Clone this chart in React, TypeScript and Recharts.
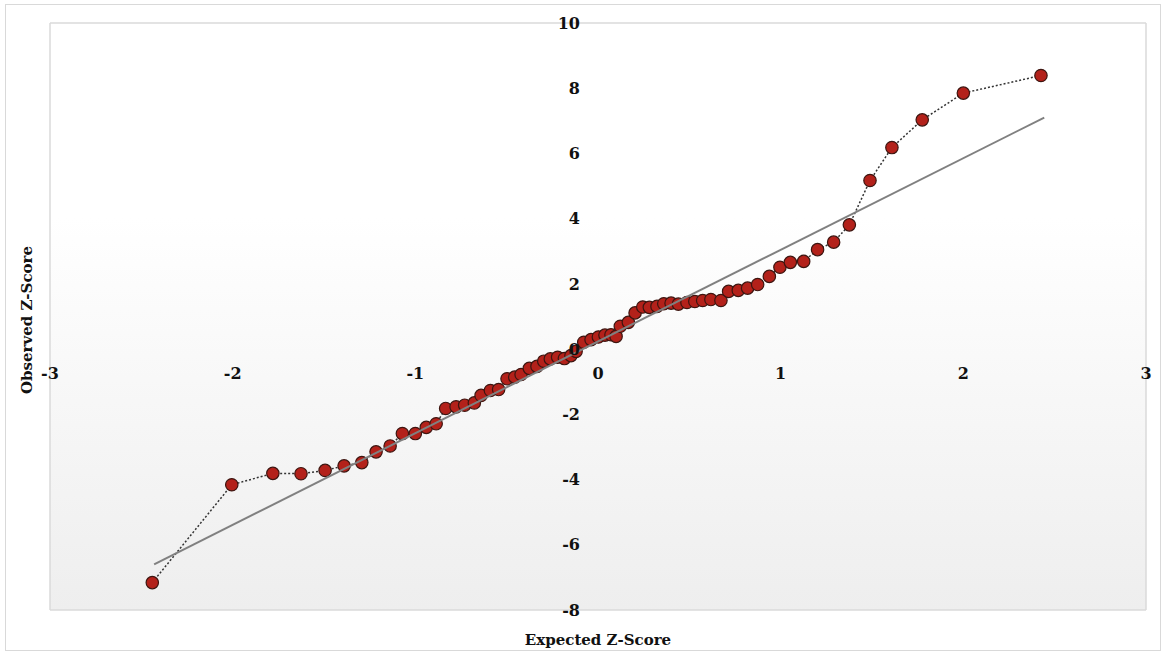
import React from "react";
import {
  CartesianGrid,
  ComposedChart,
  ReferenceDot,
  Scatter,
  XAxis,
  YAxis,
} from "recharts";

// expected (theoretical) vs observed z-scores, sorted by expected
const expected = [
  -2.44, -2.005, -1.78, -1.626, -1.494, -1.39, -1.293, -1.215, -1.138, -1.071,
  -1.0, -0.94, -0.886, -0.834, -0.777, -0.73, -0.677, -0.64, -0.589, -0.544,
  -0.498, -0.456, -0.421, -0.376, -0.334, -0.297, -0.261, -0.221, -0.184, -0.148,
  -0.12, -0.078, -0.038, 0.002, 0.038, 0.071, 0.099, 0.122, 0.166, 0.203,
  0.245, 0.281, 0.323, 0.36, 0.4, 0.44, 0.487, 0.53, 0.573, 0.618,
  0.673, 0.715, 0.768, 0.819, 0.874, 0.938, 0.996, 1.053, 1.126, 1.202,
  1.29, 1.376, 1.489, 1.609, 1.775, 2.0, 2.425,
];
const observed = [
  -7.16, -4.16, -3.81, -3.82, -3.72, -3.58, -3.48, -3.15, -2.97, -2.59,
  -2.59, -2.4, -2.29, -1.82, -1.77, -1.72, -1.65, -1.42, -1.27, -1.24,
  -0.91, -0.86, -0.78, -0.59, -0.53, -0.37, -0.3, -0.25, -0.29, -0.2,
  -0.07, 0.21, 0.29, 0.37, 0.43, 0.44, 0.39, 0.7, 0.82, 1.11,
  1.29, 1.28, 1.31, 1.39, 1.41, 1.38, 1.43, 1.46, 1.49, 1.52,
  1.49, 1.77, 1.8, 1.87, 1.98, 2.23, 2.51, 2.66, 2.69, 3.05,
  3.28, 3.81, 5.17, 6.18, 7.03, 7.85, 8.39,
];

// fitted reference line end points
const trendX = [-2.43, 2.443];
const trendY = [-6.6, 7.1];

const xTicks = [-3, -2, -1, 0, 1, 2, 3];
const yTicks = [-8, -6, -4, -2, 0, 2, 4, 6, 8, 10];

const points = expected.map((x, i) => ({ x, y: observed[i] }));
const trend = trendX.map((x, i) => ({ x, y: trendY[i] }));

const FONT = "'DejaVu Serif', 'Liberation Serif', serif";
const tickLabel = { fontSize: 16, fontWeight: 700, fill: "#111", fontFamily: FONT };
const titleStyle: React.CSSProperties = {
  position: "absolute",
  fontFamily: FONT,
  fontWeight: 700,
  fontSize: 15,
  color: "#111",
  whiteSpace: "nowrap",
};

const RedDot = (props: any) => (
  <circle cx={props.cx} cy={props.cy} r={6.2} fill="#b3211a" stroke="#3d1510" strokeWidth={1.2} />
);

export default function App() {
  return (
    <div style={{ position: "absolute", left: 0, top: 0, width: 1164, height: 653, background: "#fff" }}>
      <div
        style={{
          position: "absolute",
          left: 5,
          top: 4,
          width: 1154,
          height: 645,
          border: "1px solid #d9d9d9",
        }}
      />
      <div style={{ position: "absolute", left: 0, top: 0 }}>
        <ComposedChart
          width={1164}
          height={653}
          margin={{ top: 23, right: 18, bottom: 43, left: 50 }}
        >
          <defs>
            <linearGradient id="plotBg" x1="0" y1="0" x2="0" y2="1">
              <stop offset="0%" stopColor="#ffffff" />
              <stop offset="33%" stopColor="#ffffff" />
              <stop offset="100%" stopColor="#eeeeee" />
            </linearGradient>
          </defs>
          <CartesianGrid stroke="#dadada" strokeWidth={1.5} fill="url(#plotBg)" fillOpacity={1} />
          <XAxis
            type="number"
            dataKey="x"
            domain={[-3, 3]}
            ticks={xTicks}
            height={0}
            axisLine={false}
            tickLine={false}
            tick={false}
            allowDataOverflow
          />
          <YAxis
            type="number"
            dataKey="y"
            domain={[-8, 10]}
            ticks={yTicks}
            width={0}
            axisLine={false}
            tickLine={false}
            tick={false}
            allowDataOverflow
          />
          <Scatter
            data={points}
            isAnimationActive={false}
            shape={RedDot}
            line={{ stroke: "#333", strokeWidth: 1.5, strokeDasharray: "2 2" }}
          />
          <Scatter
            data={trend}
            isAnimationActive={false}
            shape={() => <g />}
            line={{ stroke: "#808080", strokeWidth: 2 }}
          />
          {xTicks.map((t) => (
            <ReferenceDot
              key={"x" + t}
              x={t}
              y={0}
              r={0}
              ifOverflow="visible"
              label={{ value: String(t), position: "bottom", offset: 19, ...tickLabel }}
            />
          ))}
          {yTicks.map((t) => (
            <ReferenceDot
              key={"y" + t}
              x={0}
              y={t}
              r={0}
              ifOverflow="visible"
              label={{ value: String(t), position: "left", offset: 18, ...tickLabel }}
            />
          ))}
        </ComposedChart>
      </div>
      <div style={{ ...titleStyle, left: 598, top: 640, transform: "translate(-50%, -50%)" }}>
        Expected Z-Score
      </div>
      <div
        style={{
          ...titleStyle,
          left: 27,
          top: 320,
          transform: "translate(-50%, -50%) rotate(-90deg)",
        }}
      >
        Observed Z-Score
      </div>
    </div>
  );
}
